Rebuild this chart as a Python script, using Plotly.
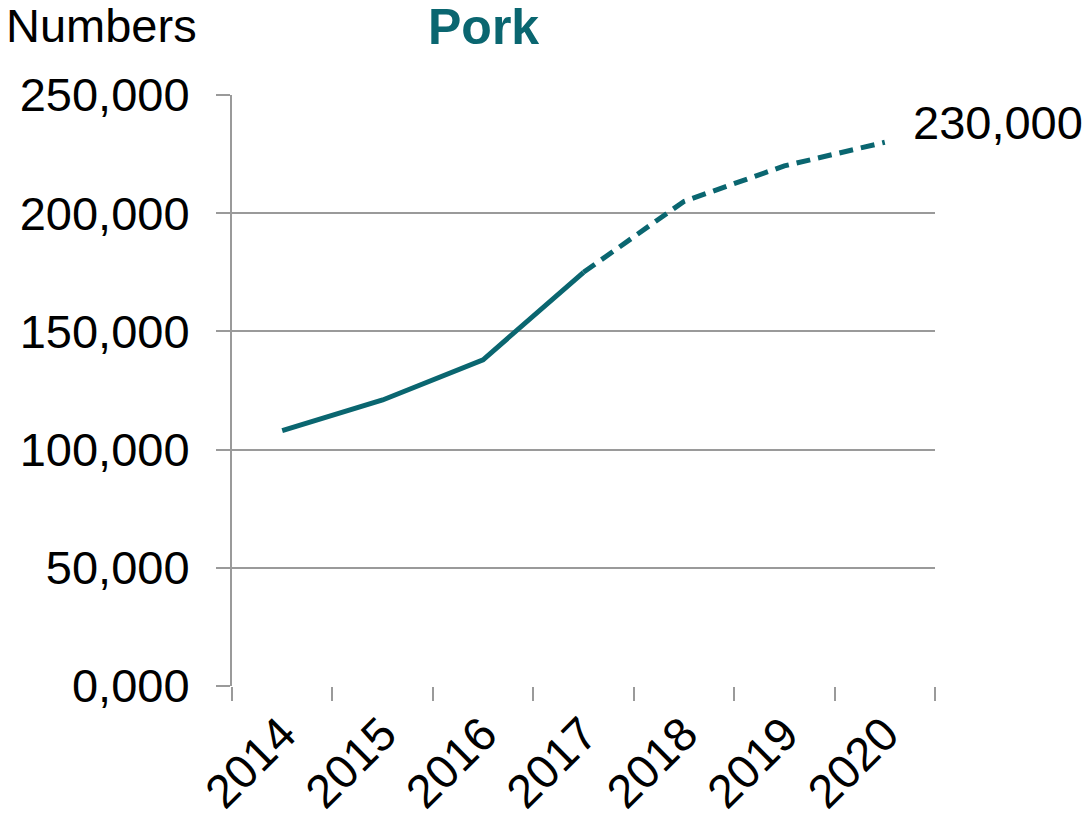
import plotly.graph_objects as go

# Pork numbers per year; actuals up to 2017, projection from 2017 onward
years = ["2014", "2015", "2016", "2017", "2018", "2019", "2020"]
actual_years = ["2014", "2015", "2016", "2017"]
actual_values = [108000, 121000, 138000, 175000]
forecast_years = ["2017", "2018", "2019", "2020"]
forecast_values = [175000, 205000, 220000, 230000]

y_ticks = [0, 50000, 100000, 150000, 200000, 250000]
y_tick_text = ["0,000", "50,000", "100,000", "150,000", "200,000", "250,000"]

TEAL = "#0A6670"
GRID = "#9A9A9A"
FONT = "Liberation Sans, Arial, sans-serif"

fig = go.Figure()
fig.add_trace(go.Scatter(
    x=actual_years, y=actual_values, mode="lines",
    line=dict(color=TEAL, width=5), showlegend=False,
))
fig.add_trace(go.Scatter(
    x=forecast_years, y=forecast_values, mode="lines",
    line=dict(color=TEAL, width=5, dash="14px,8px"), showlegend=False,
))

# value label beside the last projected point (category index on the x axis)
fig.add_annotation(
    x=years.index(forecast_years[-1]), y=forecast_values[-1], xref="x", yref="y",
    text=f"{forecast_values[-1]:,}", showarrow=False,
    xanchor="left", yanchor="middle", xshift=26, yshift=20,
    font=dict(family=FONT, size=47, color="black"),
)
fig.add_annotation(
    x=0.358, y=1.115, xref="paper", yref="paper", text="<b>Pork</b>",
    showarrow=False, xanchor="center", yanchor="middle",
    font=dict(family=FONT, size=50, color=TEAL),
)
fig.add_annotation(
    x=-0.325, y=1.118, xref="paper", yref="paper", text="Numbers",
    showarrow=False, xanchor="left", yanchor="middle",
    font=dict(family=FONT, size=47, color="black"),
)

fig.update_layout(
    width=1089, height=817,
    margin=dict(l=232, r=154, t=95, b=131, pad=0),
    paper_bgcolor="white", plot_bgcolor="white",
    font=dict(family=FONT, size=47, color="black"),
    xaxis=dict(
        type="category", categoryorder="array", categoryarray=years,
        tickson="boundaries", ticks="outside", ticklen=14, tickwidth=2,
        tickcolor=GRID, showgrid=False, showline=False, zeroline=False,
        tickangle=-45, ticklabelstandoff=10, automargin=False,
        tickfont=dict(family=FONT, size=47, color="black"),
        range=[-0.5, 6.5],
    ),
    yaxis=dict(
        range=[0, 250000], tickvals=y_ticks, ticktext=y_tick_text,
        ticks="outside", ticklen=14, tickwidth=2, tickcolor=GRID,
        showgrid=True, gridcolor=GRID, gridwidth=2,
        showline=True, linecolor=GRID, linewidth=2, zeroline=False,
        ticklabelstandoff=17, automargin=False,
        tickfont=dict(family=FONT, size=47, color="black"),
    ),
)

fig.write_html("out.html")
